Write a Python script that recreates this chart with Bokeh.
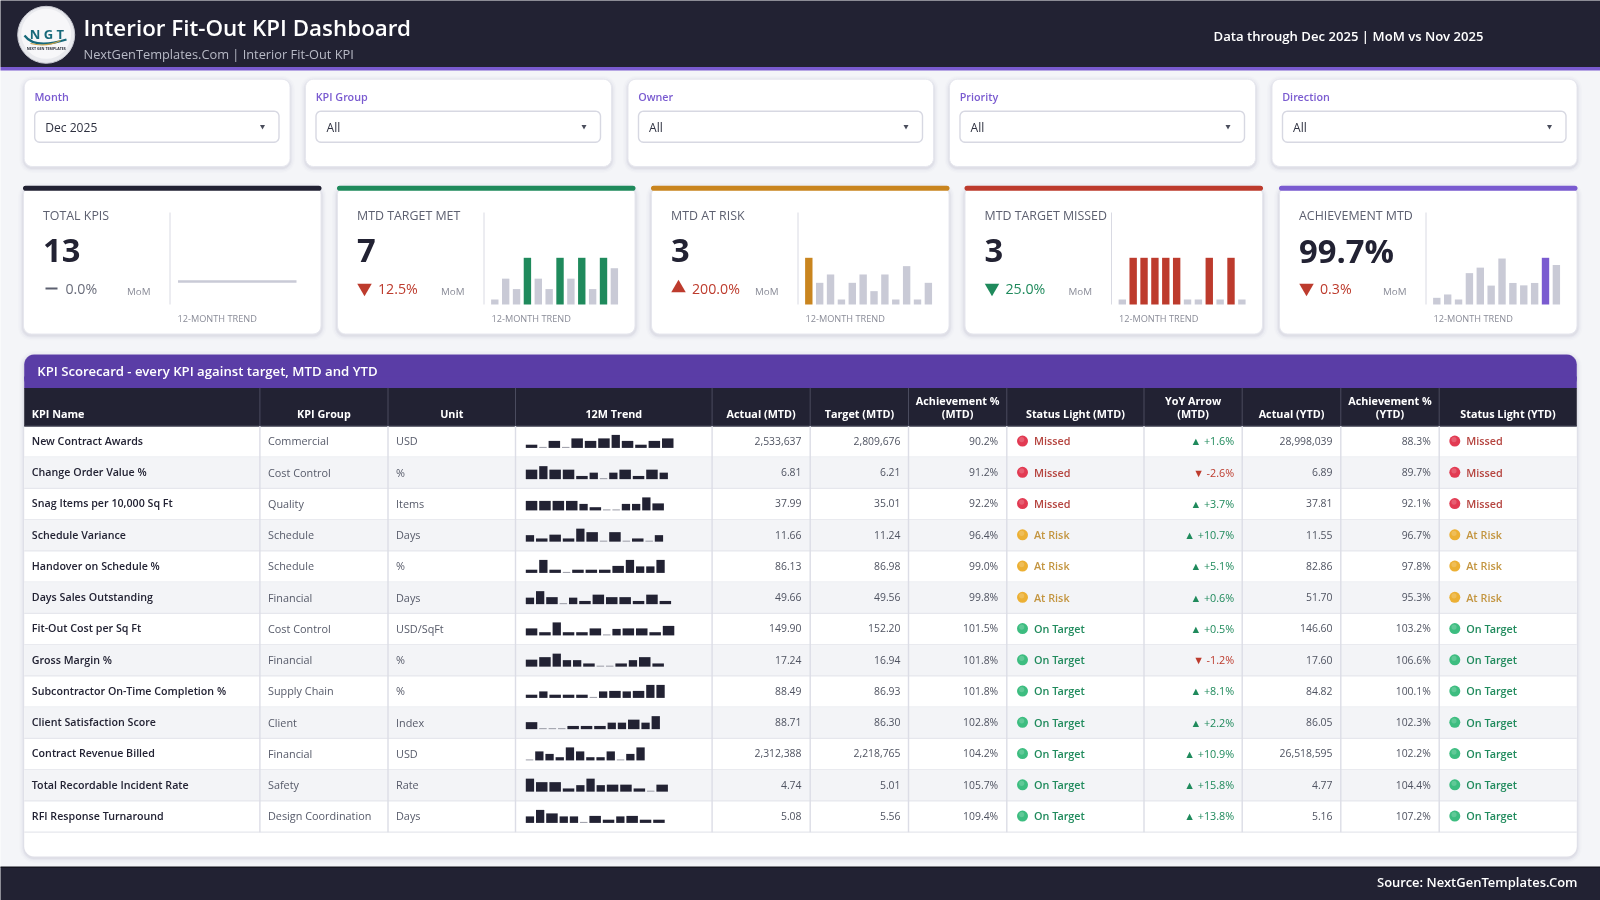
import math
from bokeh.core.properties import value
from bokeh.plotting import figure
from bokeh.models import Range1d
from bokeh.embed import file_html
from bokeh.resources import INLINE

# ---------------- data ----------------
title_text = "Interior Fit-Out KPI Dashboard"
subtitle_text = "NextGenTemplates.Com | Interior Fit-Out KPI"
through_text = "Data through Dec 2025 | MoM vs Nov 2025"
source_text = "Source: NextGenTemplates.Com"
scorecard_title = "KPI Scorecard - every KPI against target, MTD and YTD"

filter_labels = ["Month", "KPI Group", "Owner", "Priority", "Direction"]
filter_values = ["Dec 2025", "All", "All", "All", "All"]

card_labels = ["TOTAL KPIS", "MTD TARGET MET", "MTD AT RISK", "MTD TARGET MISSED", "ACHIEVEMENT MTD"]
card_values = ["13", "7", "3", "3", "99.7%"]
card_deltas = ["0.0%", "12.5%", "200.0%", "25.0%", "0.3%"]
card_direction = ["flat", "down", "up", "down", "down"]
card_good = [None, False, False, True, False]
card_total_trend = [13, 13, 13, 13, 13, 13, 13, 13, 13, 13, 13, 13]
card_met_trend = [4, 6, 5, 8, 6, 5, 8, 6, 8, 5, 8, 7]
card_risk_trend = [6, 3, 4, 1, 3, 4, 2, 4, 1, 5, 1, 3]
card_missed_trend = [3, 4, 4, 4, 4, 4, 3, 3, 4, 3, 4, 3]
card_ach_trend = [98.33, 98.47, 98.26, 99.36, 99.59, 98.84, 99.97, 98.95, 98.85, 98.95, 100.0, 99.7]
months_idx = list(range(12))

table_headers = ["KPI Name", "KPI Group", "Unit", "12M Trend", "Actual (MTD)", "Target (MTD)",
                 "Achievement %\n(MTD)", "Status Light (MTD)", "YoY Arrow\n(MTD)", "Actual (YTD)",
                 "Achievement %\n(YTD)", "Status Light (YTD)"]
kpi_names = ["New Contract Awards", "Change Order Value %", "Snag Items per 10,000 Sq Ft", "Schedule Variance",
             "Handover on Schedule %", "Days Sales Outstanding", "Fit-Out Cost per Sq Ft", "Gross Margin %",
             "Subcontractor On-Time Completion %", "Client Satisfaction Score", "Contract Revenue Billed",
             "Total Recordable Incident Rate", "RFI Response Turnaround"]
kpi_groups = ["Commercial", "Cost Control", "Quality", "Schedule", "Schedule", "Financial", "Cost Control",
              "Financial", "Supply Chain", "Client", "Financial", "Safety", "Design Coordination"]
kpi_units = ["USD", "%", "Items", "Days", "%", "Days", "USD/SqFt", "%", "%", "Index", "USD", "Rate", "Days"]
actual_mtd = ["2,533,637", "6.81", "37.99", "11.66", "86.13", "49.66", "149.90", "17.24", "88.49", "88.71",
              "2,312,388", "4.74", "5.08"]
target_mtd = ["2,809,676", "6.21", "35.01", "11.24", "86.98", "49.56", "152.20", "16.94", "86.93", "86.30",
              "2,218,765", "5.01", "5.56"]
ach_mtd = ["90.2%", "91.2%", "92.2%", "96.4%", "99.0%", "99.8%", "101.5%", "101.8%", "101.8%", "102.8%",
           "104.2%", "105.7%", "109.4%"]
status_mtd = ["Missed", "Missed", "Missed", "At Risk", "At Risk", "At Risk", "On Target", "On Target",
              "On Target", "On Target", "On Target", "On Target", "On Target"]
yoy_mtd = ["+1.6%", "-2.6%", "+3.7%", "+10.7%", "+5.1%", "+0.6%", "+0.5%", "-1.2%", "+8.1%", "+2.2%",
           "+10.9%", "+15.8%", "+13.8%"]
actual_ytd = ["28,998,039", "6.89", "37.81", "11.55", "82.86", "51.70", "146.60", "17.60", "84.82", "86.05",
              "26,518,595", "4.77", "5.16"]
ach_ytd = ["88.3%", "89.7%", "92.1%", "96.7%", "97.8%", "95.3%", "103.2%", "106.6%", "100.1%", "102.3%",
           "102.2%", "104.4%", "107.2%"]
status_ytd = ["Missed", "Missed", "Missed", "At Risk", "At Risk", "At Risk", "On Target", "On Target",
              "On Target", "On Target", "On Target", "On Target", "On Target"]
# sparkline levels per KPI, one per month
spark_levels = [
    [2, 1, 4, 1, 5, 4, 5, 6, 4, 2, 4, 5],
    [5, 6, 5, 5, 2, 3, 1, 3, 5, 2, 5, 3],
    [5, 5, 5, 5, 3, 2, 1, 1, 3, 3, 6, 4],
    [3, 2, 4, 2, 6, 5, 1, 5, 1, 2, 1, 3],
    [2, 6, 2, 1, 2, 2, 2, 4, 6, 3, 3, 6],
    [3, 6, 4, 1, 3, 2, 5, 4, 4, 2, 5, 2],
    [4, 2, 6, 2, 2, 4, 1, 3, 4, 4, 2, 5],
    [4, 5, 6, 3, 3, 2, 1, 1, 2, 3, 5, 2],
    [2, 3, 2, 2, 2, 1, 3, 4, 3, 4, 6, 6],
    [4, 1, 1, 1, 2, 2, 2, 3, 3, 5, 3, 6],
    [1, 8, 3, 7, 6, 8, 7, 7, 8, 1, 3, 6],
    [6, 5, 5, 2, 3, 6, 3, 4, 4, 2, 1, 4],
    [3, 6, 5, 3, 3, 1, 4, 2, 3, 4, 2, 2],
]

# ---------------- styles ----------------
FONT = "Open Sans"
SEMI = "Open Sans SemiBold, Open Sans"
DARK = "#222233"
PURPLE = "#7a5bd0"
PANEL = "#5a3da6"
PAGE = "#f4f5f8"
GREEN = "#1f8a5c"
RED = "#bd3b2d"
AMBER = "#c9851f"
GREY_BAR = "#c9cad6"
SPARK_H = {1: 1.0, 2: 3.2, 3: 6.5, 4: 7.0, 5: 9.5, 6: 13.0, 7: 3.2, 8: 9.0}
SPARK_W = {1: 7.5, 2: 11.5, 3: 8.3, 4: 11.5, 5: 11.5, 6: 8.3, 7: 8.3, 8: 8.3}
STATUS_TEXT = {"Missed": "#b5443f", "At Risk": "#c39540", "On Target": GREEN}
STATUS_DOT = {"Missed": "#e23a52", "At Risk": "#ecb034", "On Target": "#3dbd80"}

W, H = 1600, 900
p = figure(width=W, height=H, output_backend="svg", toolbar_location=None,
           x_range=Range1d(0, W), y_range=Range1d(H, 0), min_border=0,
           x_axis_location=None, y_axis_location=None, outline_line_color=None,
           background_fill_color=PAGE, border_fill_color=PAGE,
           styles={"position": "fixed", "left": "0", "top": "0"})
p.grid.visible = False


def t(x, y, s, size, color, align="left", weight="normal", **kw):
    font = FONT
    style = "normal"
    if weight == "semi":
        font = SEMI
    if weight == "bold":
        style = "bold"
    p.text([x], [y], [s], text_font=value(font), text_font_style=style, text_font_size=f"{size}px",
           text_color=color, text_align=align, text_baseline="middle", **kw)


def rr_path(x0, y0, x1, y1, r):
    xs, ys = [], []
    for cx, cy, a0 in ((x1 - r, y0 + r, -90), (x1 - r, y1 - r, 0), (x0 + r, y1 - r, 90), (x0 + r, y0 + r, 180)):
        for k in range(7):
            a = math.radians(a0 + 15 * k)
            xs.append(cx + r * math.cos(a))
            ys.append(cy + r * math.sin(a))
    return xs, ys


def box(x0, y0, x1, y1, r=0, fill="#ffffff", line=None, lw=1, alpha=1.0):
    xs, ys = rr_path(x0, y0, x1, y1, r) if r else ([x0, x1, x1, x0], [y0, y0, y1, y1])
    p.patch(xs, ys, fill_color=fill, fill_alpha=alpha, line_color=line, line_width=lw)


def shadow(x0, y0, x1, y1, r):
    for d, a in ((5, 0.012), (3.5, 0.018), (2, 0.03), (1, 0.04)):
        box(x0 - d, y0 - d + 1.5, x1 + d, y1 + d + 1.5, r + d, fill="#2a2a50", alpha=a)


def window(px0, px1, v0, v1, px_a, px_b):
    """A range that makes [v0,v1] land on pixels [px0,px1] of the whole frame."""
    f = lambda q: v0 + (q - px0) * (v1 - v0) / (px1 - px0)
    return Range1d(start=f(px_a), end=f(px_b))


# ---------------- header and footer ----------------
box(-2, -2, W + 2, 66.5, fill=DARK)
box(-2, 66.5, W + 2, 70, fill=PURPLE)
box(-2, 867, W + 2, H + 2, fill=DARK)
box(-2, 866, W + 2, 867.5, fill="#14141f")

p.circle([45.7], [34.3], radius=28.5, fill_color="#e9eaee", line_color="#c9cad2", line_width=1)
p.circle([45.7], [33.3], radius=25, fill_color="#f7f7f9", line_color=None)
t(46.5, 33, "N G T", 13, "#17697a", align="center", weight="bold")
p.quadratic(x0=[24], y0=[35], x1=[66], y1=[39], cx=[34], cy=[49], line_color="#17697a", line_width=2.2)
p.quadratic(x0=[30], y0=[43], x1=[60], y1=[40], cx=[46], cy=[47], line_color="#c9a24a", line_width=1.1)
t(45.7, 47.8, "NEXT GEN TEMPLATES", 3.6, "#2a2f3a", align="center", weight="bold")

t(83, 27, title_text, 22.4, "#ffffff", weight="semi")
t(83, 53, subtitle_text, 12.8, "#b8bac6")
t(1213, 35, through_text, 13.15, "#ffffff", weight="semi")
t(1577, 881, source_text, 13, "#ffffff", align="right", weight="semi")

# ---------------- filters ----------------
filter_x = [(23.7, 289.5), (305, 611), (627.5, 933), (949, 1255), (1271.5, 1576.5)]
for (a, b), lab, val in zip(filter_x, filter_labels, filter_values):
    shadow(a, 78.7, b, 166, 8)
    box(a, 78.7, b, 166, 8, line="#e6e7ee")
    t(a + 10.2, 96, lab, 10.8, PURPLE, weight="semi")
    box(a + 10.5, 110.7, b - 11, 141.7, 5, line="#d7d8e2", lw=1.4)
    t(a + 21, 126.7, val, 12.1, "#2e3140")
    p.scatter([b - 27.5], [126], marker="inverted_triangle", size=5, fill_color="#4a4d5c", line_color=None)

# ---------------- KPI cards ----------------
card_x = [22.5, 336.5, 650.5, 964, 1278.5]
card_w = 298.5
card_color = [DARK, GREEN, AMBER, RED, PURPLE]
trends = [card_total_trend, card_met_trend, card_risk_trend, card_missed_trend, card_ach_trend]
for i, cx in enumerate(card_x):
    shadow(cx, 186, cx + card_w, 333.5, 8)
    box(cx + 0.5, 186, cx + card_w - 0.5, 333.5, 8, line="#e6e7ee")
    box(cx, 185.3, cx + card_w, 190.3, 2.4, fill=card_color[i])
    t(cx + 20, 214.8, card_labels[i], 12.4, "#5d6070")
    t(cx + 20, 249.5, card_values[i], 32.7, DARK, weight="bold")
    p.line([cx + 147, cx + 147], [212, 304], line_color="#d9dae3", line_width=1)

    d = card_direction[i]
    if d == "flat":
        p.line([cx + 22.5, cx + 34.5], [288, 288], line_color="#5d6070", line_width=2.2)
        t(cx + 42.5, 288, card_deltas[i], 14.2, "#6a6d7b")
    else:
        col = GREEN if card_good[i] else RED
        p.scatter([cx + 27.5], [287.5], marker="triangle" if d == "up" else "inverted_triangle",
                  size=14.5, fill_color=col, line_color=None)
        t(cx + 41, 288, card_deltas[i], 14.2, col)
    t(cx + 104, 290.5, "MoM", 9.8, "#8a8c98")
    t(cx + 154.5, 317.5, "12-MONTH TREND", 9.2, "#8a8c98")

    vals = trends[i]
    xname, yname = f"card_x{i}", f"card_y{i}"
    if i == 0:
        p.extra_x_ranges[xname] = window(cx + 155, cx + 273.5, 0, 11, 0, W)
        p.extra_y_ranges[yname] = window(281, 271, vals[0], vals[0] + 1, H, 0)
        p.line(months_idx, vals, x_range_name=xname, y_range_name=yname, line_color=GREY_BAR, line_width=2.6)
        continue
    p.extra_x_ranges[xname] = window(cx + 154, cx + 154 + 10.87 * 12, -0.35, 11.65, 0, W)
    top, low = max(vals), min(vals)
    base = low - 0.12 * (top - low)
    p.extra_y_ranges[yname] = window(304, 257.3, base, top, H, 0)
    colors = [card_color[i] if v == top else GREY_BAR for v in vals]
    p.vbar(x=months_idx, top=vals, bottom=base, width=0.68, fill_color=colors, line_color=None,
           x_range_name=xname, y_range_name=yname)

# ---------------- scorecard ----------------
tx0, tx1 = 23.7, 1576.3
shadow(tx0, 354, tx1, 856, 10)
box(tx0, 354, tx1, 856, 10)
box(tx0, 354, tx1, 388, 10, fill=PANEL)
box(tx0, 376, tx1, 388, fill=PANEL)
t(36.7, 370.5, scorecard_title, 13.2, "#ffffff", weight="semi")

seps = [tx0, 259.4, 387.5, 515, 711.6, 809.7, 908, 1006.3, 1143.5, 1241.7, 1340.3, 1438.7, tx1]
head_top, head_bot = 387.4, 425.4
row_h = 31.25
box(tx0, head_top, tx1, head_bot, fill=DARK)
box(tx0, head_bot - 0.6, tx1, head_bot + 0.8, fill="#3a3b4c")
for i, lab in enumerate(table_headers):
    lines = lab.split("\n")
    cx = (seps[i] + seps[i + 1]) / 2
    ys = [413] if len(lines) == 1 else [399.5, 413]
    for ln, yy in zip(lines, ys):
        if i == 0:
            t(31.3, yy, ln, 10.8, "#ffffff", weight="bold")
        else:
            t(cx, yy, ln, 10.8, "#ffffff", align="center", weight="bold")

n_rows = len(kpi_names)
for r in range(n_rows):
    top = head_bot + r * row_h
    if r % 2 == 1:
        box(tx0, top, tx1, top + row_h, fill="#f3f4f7")
    p.line([tx0, tx1], [top + row_h, top + row_h], line_color="#e6e7ed", line_width=1.2)

for s in seps[1:-1]:
    p.line([s, s], [head_top, head_bot], line_color="#4a4b5e", line_width=1)
    p.line([s, s], [head_bot, head_bot + n_rows * row_h], line_color="#dcdde6", line_width=1.4)

BODY = "#565a69"
NUM = "#4f5361"
for r in range(n_rows):
    yc = head_bot + r * row_h + 15.6
    y = yc - 0.7
    t(31.3, y, kpi_names[r], 10.7, DARK, weight="semi")
    t(267.5, y, kpi_groups[r], 10.85, BODY)
    t(395.5, y, kpi_units[r], 10.85, BODY)
    t(801, y, actual_mtd[r], 10.4, NUM, align="right")
    t(900, y, target_mtd[r], 10.4, NUM, align="right")
    t(997.7, y, ach_mtd[r], 10.4, NUM, align="right")
    t(1332, y, actual_ytd[r], 10.4, NUM, align="right")
    t(1430.3, y, ach_ytd[r], 10.4, NUM, align="right")
    for dx, st in ((1022, status_mtd[r]), (1454.3, status_ytd[r])):
        p.circle([dx], [yc - 0.4], radius=5.5, fill_color=STATUS_DOT[st], line_color=None)
        p.circle([dx - 0.8], [yc - 1.9], radius=2.6, fill_color="#ffffff", fill_alpha=0.18, line_color=None)
        t(dx + 11.4, y, st, 10.85, STATUS_TEXT[st], weight="semi")
    up = yoy_mtd[r].startswith("+")
    t(1233.7, y, ("\u25b2 " if up else "\u25bc ") + yoy_mtd[r], 10.8, GREEN if up else RED, align="right")

    # sparkline
    yname = f"spark_y{r}"
    base = yc + 6.4
    p.extra_y_ranges[yname] = window(base, base - 13, 0, 13, H, 0)
    left, right, heights, cols = [], [], [], []
    pos = 525.3
    for lv in spark_levels[r]:
        left.append(pos)
        right.append(pos + SPARK_W[lv])
        heights.append(SPARK_H[lv])
        cols.append("#9a9ba6" if lv == 1 else DARK)
        pos += SPARK_W[lv] + 1.9
    p.quad(left=left, right=right, bottom=0, top=heights, fill_color=cols, line_color=None, y_range_name=yname)

open("out.html", "w").write(file_html(p, INLINE))
